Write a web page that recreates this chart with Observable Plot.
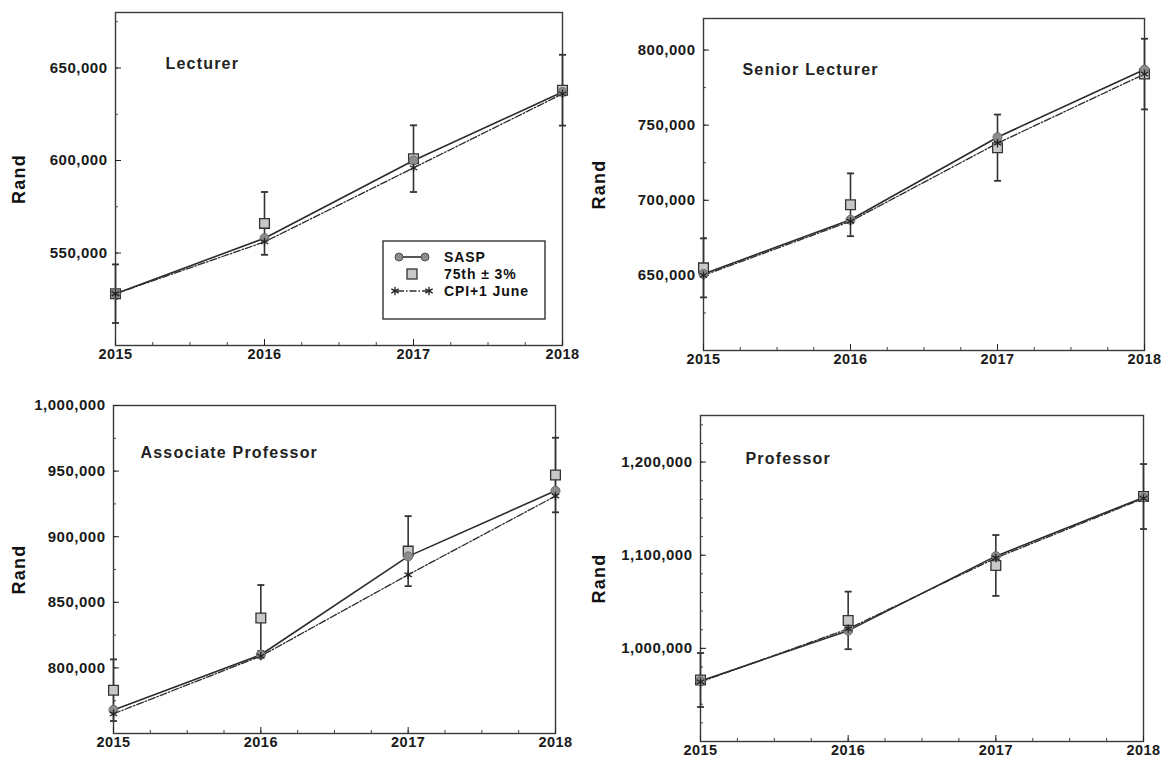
<!DOCTYPE html>
<html>
<head>
<meta charset="utf-8">
<script src="https://cdn.jsdelivr.net/npm/d3@7"></script>
<script src="https://cdn.jsdelivr.net/npm/@observablehq/plot@0.6"></script>
<style>
  html, body { margin: 0; padding: 0; background: #fff; }
  #root { position: relative; width: 1161px; height: 764px; overflow: hidden; font-family: "Liberation Sans", Arial, sans-serif; }
  .panel { position: absolute; }
  .legend { position: absolute; }
  .panel svg [aria-label="text"] text { letter-spacing: 1.2px; }
  .panel svg [aria-label="y-axis tick label"] text { letter-spacing: 0.5px; }
  .panel svg [aria-label="x-axis tick label"] text { letter-spacing: 0.5px; }
  .legend text { letter-spacing: 0.9px; }
</style>
</head>
<body>
<div id="root"></div>
<script>
// ---------- data ----------
const years = [2015, 2016, 2017, 2018];

const panelTitles = ["Lecturer", "Senior Lecturer", "Associate Professor", "Professor"];

const lecturerSASP = [528000, 558000, 600000, 637000];
const lecturer75th = [528000, 566000, 601000, 638000];
const lecturerCPI  = [528000, 556000, 596000, 636000];

const seniorSASP = [651000, 687000, 742000, 787000];
const senior75th = [655000, 697000, 735000, 784000];
const seniorCPI  = [650000, 686000, 738000, 784000];

const assocSASP = [768000, 810000, 885000, 935000];
const assoc75th = [783000, 838000, 889000, 947000];
const assocCPI  = [765000, 809000, 871000, 931000];

const profSASP = [965000, 1019000, 1099000, 1162000];
const prof75th = [966000, 1030000, 1089000, 1163000];
const profCPI  = [964000, 1021000, 1097000, 1161000];

const lecturerTicks = [550000, 600000, 650000];
const seniorTicks = [650000, 700000, 750000, 800000];
const assocTicks = [800000, 850000, 900000, 950000, 1000000];
const profTicks = [1000000, 1100000, 1200000];

const errorBand = 0.03; // "75th ± 3%"

const legendLabels = ["SASP", "75th \u00B1 3%", "CPI+1 June"];

// ---------- layout ----------
const panels = [
  {title: panelTitles[0], sasp: lecturerSASP, p75: lecturer75th, cpi: lecturerCPI, ticks: lecturerTicks, minor: 25000,
   domain: [500000, 680000], left: 0, top: 0, width: 580, height: 375,
   m: {l: 115, r: 18, t: 12, b: 30}, titleD: [50, 45], legend: true},
  {title: panelTitles[1], sasp: seniorSASP, p75: senior75th, cpi: seniorCPI, ticks: seniorTicks, minor: 25000,
   domain: [600000, 821000], left: 580, top: 0, width: 581, height: 380,
   m: {l: 123, r: 17, t: 18, b: 30}, titleD: [39, 45]},
  {title: panelTitles[2], sasp: assocSASP, p75: assoc75th, cpi: assocCPI, ticks: assocTicks, minor: 25000,
   domain: [750000, 1000000], left: 0, top: 385, width: 580, height: 379,
   m: {l: 113, r: 25, t: 20, b: 31}, titleD: [27, 41]},
  {title: panelTitles[3], sasp: profSASP, p75: prof75th, cpi: profCPI, ticks: profTicks, minor: 20000,
   domain: [900000, 1250000], left: 580, top: 385, width: 581, height: 379,
   m: {l: 120, r: 18, t: 30, b: 23}, titleD: [45, 37]}
];

const capSymbol = {
  draw(context, size) {
    const w = Math.sqrt(size) / 2;
    context.moveTo(-w, 0);
    context.lineTo(w, 0);
  }
};

const fmt = d3.format(",");
const root = document.getElementById("root");

for (const p of panels) {
  const rows = years.map((year, i) => ({
    year, sasp: p.sasp[i], p75: p.p75[i], cpi: p.cpi[i],
    lo: p.p75[i] * (1 - errorBand), hi: p.p75[i] * (1 + errorBand)
  }));
  const minorY = d3.range(Math.ceil(p.domain[0] / p.minor) * p.minor, p.domain[1], p.minor);
  const minorX = d3.range(2015, 2018.001, 0.25);

  const chart = Plot.plot({
    width: p.width,
    height: p.height,
    marginLeft: p.m.l, marginRight: p.m.r, marginTop: p.m.t, marginBottom: p.m.b,
    x: {domain: [2015, 2018]},
    y: {domain: p.domain},
    style: {fontFamily: "'Liberation Sans', Arial, sans-serif", fontWeight: "bold", color: "#111", background: "transparent", overflow: "visible"},
    marks: [
      Plot.frame({stroke: "#3a3a3a", strokeWidth: 1.4}),
      Plot.axisY({ticks: minorY, tickSize: -3, text: null, label: null, stroke: "#444"}),
      Plot.axisY({ticks: p.ticks, tickSize: -6, tickFormat: fmt, tickPadding: 14, fontSize: 15, label: null, stroke: "#222", fill: "#1a1a1a"}),
      Plot.axisX({ticks: minorX, tickSize: -3, text: null, label: null, stroke: "#444"}),
      Plot.axisX({ticks: years, tickSize: -6, tickFormat: d => String(d), tickPadding: 9, fontSize: 14.5, label: null, stroke: "#222", fill: "#1a1a1a"}),
      Plot.text(["Rand"], {frameAnchor: "left", rotate: -90, textAnchor: "middle", dx: -(p.m.l - 19), fontSize: 18, fontWeight: "bold", fill: "#111"}),
      Plot.text([p.title], {frameAnchor: "top-left", dx: p.titleD[0], dy: p.titleD[1], textAnchor: "start", fontSize: 16, fontWeight: "bold", fill: "#222"}),
      Plot.line(rows, {x: "year", y: "sasp", stroke: "#2b2b2b", strokeWidth: 1.6}),
      Plot.line(rows, {x: "year", y: "cpi", stroke: "#2b2b2b", strokeWidth: 1.3, strokeDasharray: "7,2,1.5,2"}),
      Plot.ruleX(rows, {x: "year", y1: "lo", y2: "hi", stroke: "#333", strokeWidth: 1.6}),
      Plot.dot(rows, {x: "year", y: "lo", symbol: capSymbol, r: 4, stroke: "#333", strokeWidth: 1.8}),
      Plot.dot(rows, {x: "year", y: "hi", symbol: capSymbol, r: 4, stroke: "#333", strokeWidth: 1.8}),
      Plot.dot(rows, {x: "year", y: "p75", symbol: "square", r: 5.5, fill: "#c8c8c8", stroke: "#333", strokeWidth: 1.3}),
      Plot.dot(rows, {x: "year", y: "sasp", symbol: "circle", r: 4.5, fill: "#8c8c8c", stroke: "#6a6a6a", strokeWidth: 1}),
      Plot.dot(rows, {x: "year", y: "cpi", symbol: "asterisk", r: 4, stroke: "#222", strokeWidth: 1.3})
    ]
  });
  const div = document.createElement("div");
  div.className = "panel";
  div.style.left = p.left + "px";
  div.style.top = p.top + "px";
  div.appendChild(chart);
  root.appendChild(div);

  if (p.legend) {
    const lw = 164, lh = 80;
    const lg = d3.create("svg").attr("width", lw).attr("height", lh)
      .attr("class", "legend")
      .style("left", "382px").style("top", "240px")
      .style("font-family", "'Liberation Sans', Arial, sans-serif")
      .style("font-weight", "bold").style("font-size", "14px");
    lg.append("rect").attr("x", 1).attr("y", 1).attr("width", lw - 2).attr("height", lh - 2)
      .attr("fill", "#fff").attr("stroke", "#333").attr("stroke-width", 1.4);
    const rowY = [17, 34, 51];
    // SASP
    lg.append("line").attr("x1", 17).attr("x2", 43).attr("y1", rowY[0]).attr("y2", rowY[0]).attr("stroke", "#2b2b2b").attr("stroke-width", 1.6);
    for (const cx of [17, 43]) lg.append("circle").attr("cx", cx).attr("cy", rowY[0]).attr("r", 4).attr("fill", "#8c8c8c").attr("stroke", "#555");
    // 75th
    lg.append("rect").attr("x", 25).attr("y", rowY[1] - 5).attr("width", 10).attr("height", 10).attr("fill", "#c8c8c8").attr("stroke", "#333").attr("stroke-width", 1.3);
    // CPI
    lg.append("line").attr("x1", 15).attr("x2", 45).attr("y1", rowY[2]).attr("y2", rowY[2]).attr("stroke", "#2b2b2b").attr("stroke-width", 1.3).attr("stroke-dasharray", "7,2,1.5,2");
    const ast = d3.symbol(d3.symbolAsterisk, 50)();
    for (const cx of [13, 47]) lg.append("path").attr("d", ast).attr("transform", `translate(${cx},${rowY[2]})`).attr("stroke", "#222").attr("stroke-width", 1.3).attr("fill", "none");
    legendLabels.forEach((t, i) => {
      lg.append("text").attr("x", 62).attr("y", rowY[i]).attr("dy", "0.35em").attr("fill", "#111").text(t);
    });
    root.appendChild(lg.node());
  }
}
</script>
</body>
</html>
